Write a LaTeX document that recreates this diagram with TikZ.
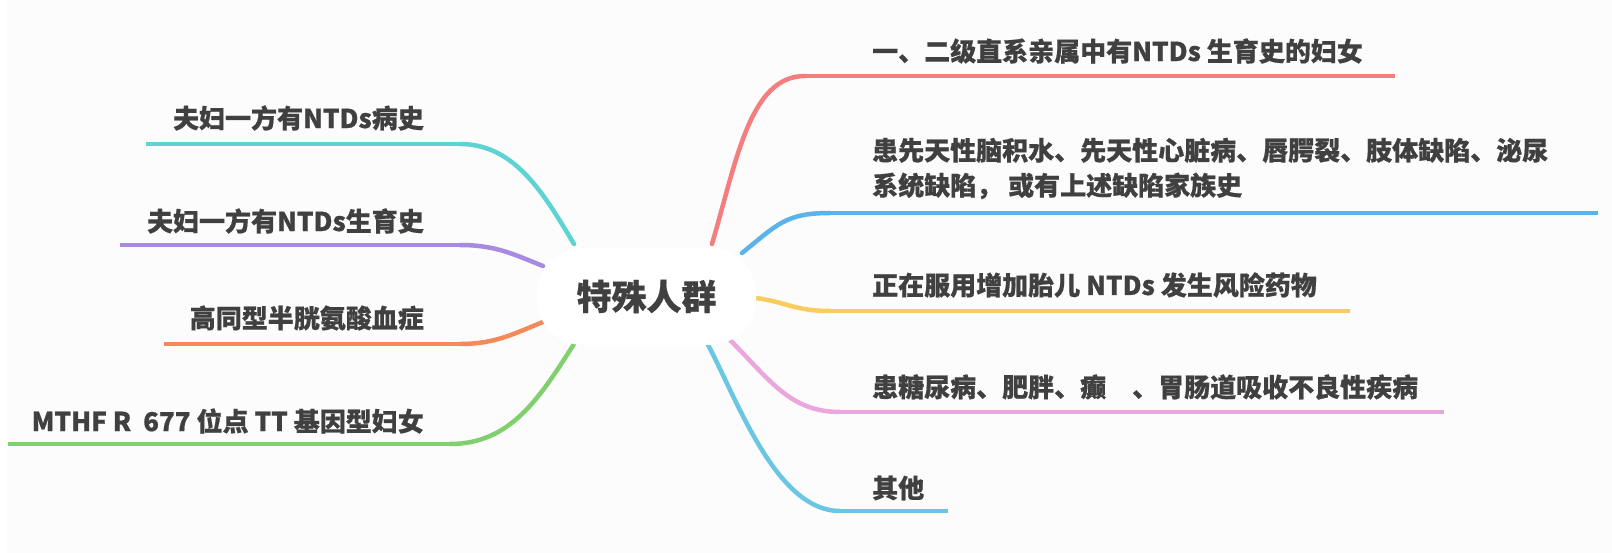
\documentclass[tikz,border=0pt]{standalone}
\usepackage{fontspec}
\setmainfont{Noto Sans CJK SC}[BoldFeatures={FakeBold=0.6}]
\definecolor{bgc}{HTML}{FCFCFC}
\definecolor{txt}{HTML}{404040}
\definecolor{cred}{HTML}{F47D7D}
\definecolor{cblue}{HTML}{5BB3EA}
\definecolor{cyel}{HTML}{F9CC5E}
\definecolor{cpink}{HTML}{EBA6DE}
\definecolor{ccyan}{HTML}{6AC6E2}
\definecolor{cteal}{HTML}{5ED3D3}
\definecolor{cpurp}{HTML}{A98AE2}
\definecolor{corg}{HTML}{F5895A}
\definecolor{cgrn}{HTML}{80D070}
\begin{document}
\begin{tikzpicture}[x=1pt,y=-1pt,
  lbl/.style={font=\bfseries\fontsize{26}{35}\selectfont, text=txt, inner sep=0pt},
  curvew/.style={line width=4.5pt, line cap=round},
  linew/.style={line width=3.2pt, line cap=butt},
  central/.style={fill=white, draw=none, rounded corners=46pt, minimum width=219pt, minimum height=97pt,
    font=\bfseries\fontsize{35}{40}\selectfont, text=txt}]
\fill[bgc] (0,0) rectangle (1612,553);
\fill[white] (0,0) rectangle (7,553);
\useasboundingbox (0,0) rectangle (1612,553);

% coordinates
\coordinate (rs1) at (712,244); \coordinate (rc1) at (805,76);  \coordinate (re1) at (1395,76);
\coordinate (rs2) at (742,253); \coordinate (rc2) at (830,213); \coordinate (re2) at (1598,213);
\coordinate (rs3) at (756,298); \coordinate (rc3) at (830,311); \coordinate (re3) at (1350,311);
\coordinate (rs4) at (730,340); \coordinate (rc4) at (840,412); \coordinate (re4) at (1444,412);
\coordinate (rs5) at (706,341); \coordinate (rc5) at (840,511); \coordinate (re5) at (948,511);
\coordinate (ls1) at (574,244); \coordinate (lc1) at (460,144); \coordinate (le1) at (146,144);
\coordinate (ls2) at (543,266); \coordinate (lc2) at (460,245); \coordinate (le2) at (120,245);
\coordinate (ls3) at (543,322); \coordinate (lc3) at (460,344); \coordinate (le3) at (164,344);
\coordinate (ls4) at (574,344); \coordinate (lc4) at (450,444); \coordinate (le4) at (8,444);

% right branches
\draw[linew, cred] (rc1) -- (re1);
\draw[curvew, cred] (rs1) .. controls +(25,-85) and +(-55,0) .. (rc1);
\draw[linew, cblue] (rc2) -- (re2);
\draw[curvew, cblue] (rs2) .. controls +(35,-28) and +(-45,0) .. (rc2);
\draw[linew, cyel] (rc3) -- (re3);
\draw[curvew, cyel] (rs3) .. controls +(30,4) and +(-35,0) .. (rc3);
\draw[linew, cpink] (rc4) -- (re4);
\draw[curvew, cpink] (rs4) .. controls +(40,40) and +(-50,0) .. (rc4);
\draw[linew, ccyan] (rc5) -- (re5);
\draw[curvew, ccyan] (rs5) .. controls +(30,55) and +(-65,0) .. (rc5);
% left branches
\draw[linew, cteal] (lc1) -- (le1);
\draw[curvew, cteal] (ls1) .. controls +(-30,-50) and +(55,0) .. (lc1);
\draw[linew, cpurp] (lc2) -- (le2);
\draw[curvew, cpurp] (ls2) .. controls +(-30,-12) and +(35,0) .. (lc2);
\draw[linew, corg] (lc3) -- (le3);
\draw[curvew, corg] (ls3) .. controls +(-30,12) and +(35,0) .. (lc3);
\draw[linew, cgrn] (lc4) -- (le4);
\draw[curvew, cgrn] (ls4) .. controls +(-35,55) and +(60,0) .. (lc4);

% central node
\node[central] (root) at (646.5,296.5) {特殊人群};

% right labels
\node[lbl, anchor=west] (r1) at (872,51) {一、二级直系亲属中有NTDs 生育史的妇女};
\node[lbl, anchor=west, align=left] (r2) at (872,168.5) {患先天性脑积水、先天性心脏病、唇腭裂、肢体缺陷、泌尿\\系统缺陷，\ 或有上述缺陷家族史};
\node[lbl, anchor=west] (r3) at (872,285) {正在服用增加胎儿 NTDs 发生风险药物};
\node[lbl, anchor=west] (r4) at (872,387) {患糖尿病、肥胖、癫\hspace{26pt}、胃肠道吸收不良性疾病};
\node[lbl, anchor=west] (r5) at (872,488) {其他};
% left labels
\node[lbl, anchor=east] (l1) at (424,118) {夫妇一方有NTDs病史};
\node[lbl, anchor=east] (l2) at (424,221) {夫妇一方有NTDs生育史};
\node[lbl, anchor=east] (l3) at (424,318) {高同型半胱氨酸血症};
\node[lbl, anchor=east] (l4) at (424,421) {MTHF R\ \ 677 位点 TT 基因型妇女};
\end{tikzpicture}
\end{document}
